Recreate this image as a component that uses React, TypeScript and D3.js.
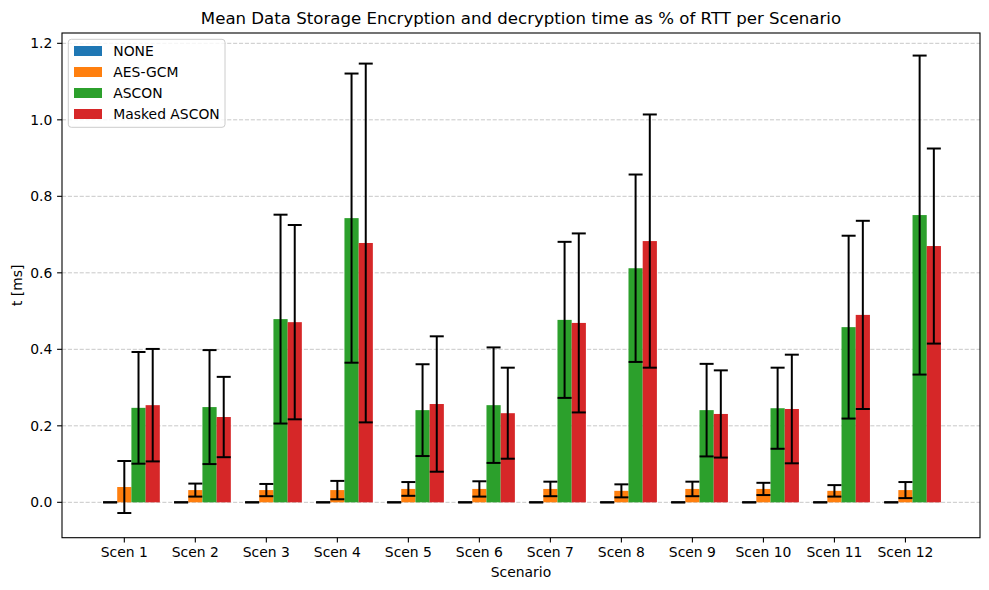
import React from "react";
import * as d3 from "d3";

const categories = ["Scen 1","Scen 2","Scen 3","Scen 4","Scen 5","Scen 6","Scen 7","Scen 8","Scen 9","Scen 10","Scen 11","Scen 12"];
const seriesNames = ["NONE", "AES-GCM", "ASCON", "Masked ASCON"];
const colors = ["#1f77b4", "#ff7f0e", "#2ca02c", "#d62728"];

const noneMean = [0,0,0,0,0,0,0,0,0,0,0,0];
const noneErr = [0,0,0,0,0,0,0,0,0,0,0,0];
const aesMean = [0.040,0.032,0.032,0.032,0.035,0.035,0.035,0.030,0.035,0.035,0.030,0.032];
const aesErr = [0.068,0.017,0.016,0.024,0.018,0.020,0.019,0.017,0.019,0.016,0.015,0.021];
const asconMean = [0.247,0.249,0.479,0.743,0.241,0.254,0.477,0.612,0.241,0.246,0.458,0.751];
const asconErr = [0.146,0.149,0.273,0.378,0.120,0.151,0.204,0.245,0.121,0.106,0.239,0.417];
const maskedMean = [0.254,0.223,0.471,0.678,0.257,0.233,0.469,0.683,0.231,0.244,0.490,0.670];
const maskedErr = [0.147,0.105,0.254,0.469,0.177,0.119,0.234,0.331,0.114,0.142,0.246,0.255];

const yTicks = [0.0, 0.2, 0.4, 0.6, 0.8, 1.0, 1.2];

const means = [noneMean, aesMean, asconMean, maskedMean];
const errs = [noneErr, aesErr, asconErr, maskedErr];

const W = 989, H = 590;
const L = 62, R = 980, T = 33, B = 537.7;
const FONT = "DejaVu Sans, sans-serif";

export default function App() {
  const x = d3.scaleLinear().domain([-0.8775, 12.05]).range([L, R]);
  const y = d3.scaleLinear().domain([-0.0925, 1.227]).range([B, T]);
  const barW = 0.2;
  const bw = x(barW) - x(0);
  const cap = 7;

  return (
    <svg width={W} height={H} style={{ position: "absolute", left: 0, top: 0, background: "#fff" }} fontFamily={FONT}>
      <rect x={0} y={0} width={W} height={H} fill="#fff" />
      {/* grid */}
      {yTicks.map((t) => (
        <line key={"g" + t} x1={L} x2={R} y1={y(t)} y2={y(t)} stroke="#b0b0b0" strokeOpacity={0.7} strokeWidth={1} strokeDasharray="4.1,1.8" />
      ))}
      {/* bars */}
      {means.map((m, s) =>
        m.map((v, i) => {
          const cx = x(i + (s - 1) * barW);
          const y0 = y(0), y1 = y(v);
          return (
            <rect key={`b${s}-${i}`} x={cx - bw / 2} y={Math.min(y0, y1)} width={bw} height={Math.abs(y1 - y0)} fill={colors[s]} />
          );
        })
      )}
      {/* error bars */}
      {means.map((m, s) =>
        m.map((v, i) => {
          const cx = x(i + (s - 1) * barW);
          const e = errs[s][i];
          const yt = y(v + e), yb = y(v - e);
          return (
            <g key={`e${s}-${i}`} stroke="#000" strokeWidth={2}>
              {e > 0 && <line x1={cx} x2={cx} y1={yt} y2={yb} />}
              <line x1={cx - cap} x2={cx + cap} y1={yt} y2={yt} />
              <line x1={cx - cap} x2={cx + cap} y1={yb} y2={yb} />
            </g>
          );
        })
      )}
      {/* axes frame */}
      <rect x={L} y={T} width={R - L} height={B - T} fill="none" stroke="#000" strokeWidth={1.1} />
      {/* y ticks */}
      {yTicks.map((t) => (
        <g key={"yt" + t}>
          <line x1={L - 4.9} x2={L} y1={y(t)} y2={y(t)} stroke="#000" strokeWidth={1.1} />
          <text x={L - 9.7} y={y(t)} dy="0.35em" textAnchor="end" fontSize={13.9} fill="#000">{t.toFixed(1)}</text>
        </g>
      ))}
      {/* x ticks */}
      {categories.map((c, i) => (
        <g key={"xt" + c}>
          <line x1={x(i)} x2={x(i)} y1={B} y2={B + 4.9} stroke="#000" strokeWidth={1.1} />
          <text x={x(i)} y={557} textAnchor="middle" fontSize={13.9} fill="#000">{c}</text>
        </g>
      ))}
      {/* labels */}
      <text x={(L + R) / 2} y={577} textAnchor="middle" fontSize={13.9} fill="#000">Scenario</text>
      <text transform={`translate(22,${(T + B) / 2}) rotate(-90)`} textAnchor="middle" fontSize={13.9} fill="#000">t [ms]</text>
      <text x={(L + R) / 2} y={24} textAnchor="middle" fontSize={16.6} fill="#000">Mean Data Storage Encryption and decryption time as % of RTT per Scenario</text>
      {/* legend */}
      <rect x={68.3} y={39.3} width={156.7} height={88} rx={3} fill="#fff" fillOpacity={0.8} stroke="#cccccc" strokeWidth={1} />
      {seriesNames.map((n, s) => {
        const cy = 51 + s * 21;
        return (
          <g key={"lg" + n}>
            <rect x={74} y={cy - 5} width={28} height={10} fill={colors[s]} />
            <text x={113.3} y={cy} dy="0.35em" fontSize={13.9} fill="#000">{n}</text>
          </g>
        );
      })}
    </svg>
  );
}
